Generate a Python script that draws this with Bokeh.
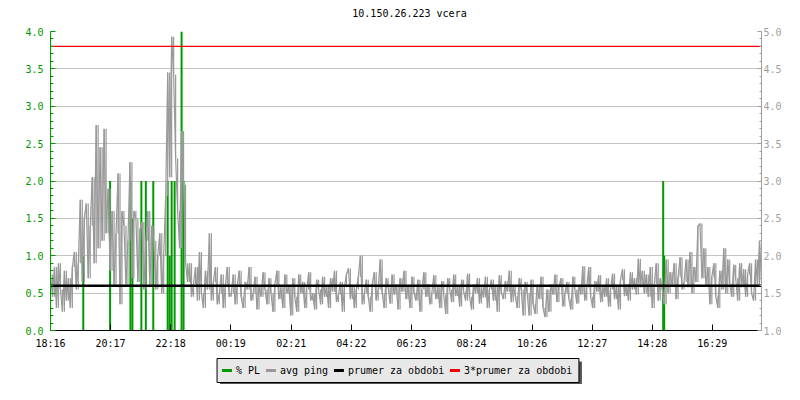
from bokeh.plotting import figure
from bokeh.layouts import column
from bokeh.core.properties import value
from bokeh.models import (Range1d, LinearAxis, FixedTicker, SingleIntervalTicker,
                          PrintfTickFormatter)
from bokeh.embed import file_html
from bokeh.resources import INLINE

# ---------------- data ----------------
title_text = "10.150.26.223 vcera"

tick_minutes = [0, 121, 242, 363, 485, 606, 727, 848, 970, 1091, 1212, 1333]
tick_labels = ["18:16", "20:17", "22:18", "00:19", "02:21", "04:22",
               "06:23", "08:24", "10:26", "12:27", "14:28", "16:29"]

sample_step_min = 4  # minutes between avg ping samples

# avg ping [ms] (right axis)
ping_ms = [
    # 18:16 - 22:30 (busy evening)
    1.75, 1.45, 1.85, 1.3, 1.9, 1.55, 1.25, 1.8, 1.4, 1.7, 1.3, 1.85,
    2.05, 1.55, 1.9,
    2.75, 1.65, 2.5,
    2.7, 1.7, 2.4,
    3.05, 1.9,
    3.75, 2.1,
    3.45, 2.2,
    3.7, 2.3,
    2.9, 1.8,
    2.6, 1.6, 2.3,
    3.1, 1.35, 2.6,
    2.4, 1.6, 2.2,
    3.25, 1.7, 2.6,
    2.5, 1.65, 2.35,
    2.45, 1.55, 2.2,
    2.6, 1.6, 2.4,
    2.2, 1.55, 2.0,
    2.3, 1.5, 2.0,
    2.8, 4.45, 3.05, 4.93, 4.42, 3.3, 2.6, 2.1, 3.67, 2.95, 1.9, 1.65,
    1.9, 1.45, 1.62, 1.85, 1.4,
    2.05,
    1.5, 1.3, 1.8, 1.55,
    2.3,
    1.4, 1.65, 1.85, 1.35, 1.5, 1.75, 1.3, 1.6, 1.85, 1.45,
    # night and day
    1.5, 1.75, 1.35, 1.6, 1.8, 1.45, 1.3, 1.65, 1.55, 1.85, 1.4, 1.5, 1.72, 1.28,
    1.6, 1.45, 1.78, 1.55, 1.35, 1.7, 1.5, 1.25, 1.62, 1.8, 1.42, 1.58, 1.3, 1.75, 1.5,
    1.6, 1.2, 1.7, 1.45, 1.25, 1.75, 1.5, 1.65, 1.3, 1.55,
    1.78, 1.4, 1.5, 1.28, 1.68, 1.55, 1.35, 1.72, 1.45, 1.6,
    1.3, 1.7, 1.52, 1.8, 1.38, 1.48, 1.65, 1.25, 1.58, 1.75,
    1.83, 1.42, 1.6, 1.3, 1.55, 1.72, 2.0, 1.35, 1.5, 1.68,
    1.45, 1.25, 1.62, 1.78, 1.4, 1.55, 1.95, 1.5, 1.3, 1.7,
    1.58, 1.36, 1.75, 1.48, 1.62, 1.28, 1.7, 1.52, 1.8, 1.42,
    1.6, 1.3, 1.72, 1.5, 1.4, 1.68, 1.25, 1.55, 1.78, 1.45,
    1.62, 1.35, 1.5, 1.74, 1.42, 1.58, 1.3, 1.66, 1.48, 1.22,
    1.7, 1.55, 1.38, 1.75, 1.46, 1.6, 1.32, 1.68, 1.52, 1.4,
    1.76, 1.45, 1.28, 1.62, 1.5, 1.7, 1.36, 1.58, 1.44, 1.72,
    1.3, 1.55, 1.68, 1.4, 1.6, 1.25, 1.74, 1.5, 1.42, 1.66,
    1.52, 1.8, 1.38, 1.6, 1.46, 1.3, 1.7, 1.55, 1.2, 1.65,
    1.5, 1.2, 1.68, 1.35, 1.22, 1.6, 1.42, 1.72, 1.3, 1.18,
    1.55, 1.25, 1.62, 1.48, 1.75, 1.38, 1.58, 1.7, 1.32, 1.5,
    1.65, 1.42, 1.28, 1.72, 1.55, 1.36, 1.6, 1.48, 1.86, 1.4,
    1.58, 1.85, 1.45, 1.3, 1.66, 1.52, 1.74, 1.38, 1.6, 1.45,
    1.7, 1.32, 1.55, 1.76, 1.42, 1.6, 1.28, 1.68, 1.82, 1.46,
    1.62, 1.4, 1.78, 1.55, 1.7, 1.48, 1.96, 1.58, 1.8, 1.5,
    1.75, 1.45, 1.85, 1.3, 1.62, 1.9, 1.4, 1.7, 1.55, 1.35,
    1.95, 1.5, 1.78, 1.6, 1.9, 1.42, 1.72, 1.98, 1.55, 1.65,
    1.95, 1.58, 2.05, 1.5, 1.85, 1.65, 2.4, 2.43, 1.7, 2.1,
    1.6, 1.85, 1.35, 1.72, 1.9, 1.45, 1.3, 1.8, 1.55, 2.1,
    1.5, 1.95, 1.62, 1.45, 1.88, 1.7, 1.4, 1.9, 1.58, 1.82,
    1.45, 1.75, 1.9, 1.5, 1.4, 1.95, 1.6, 2.2, 1.65,
]
ping_minutes = [i * sample_step_min for i in range(len(ping_ms))]

# packet loss [%] (left axis) spikes
pl_minutes = [66, 120, 161, 165, 183, 192, 207, 236, 240, 244, 250, 264, 268, 1234, 1236]
pl_values = [1.0, 2.0, 2.0, 1.5, 2.0, 2.0, 2.0, 2.0, 1.0, 2.0, 2.0, 4.0, 2.0, 2.0, 1.0]

mean_ping = 1.6          # prumer za obdobi [ms]
triple_mean_ping = 4.8   # 3*prumer za obdobi [ms]

legend_labels = ["% PL", "avg ping", "prumer za obdobi", "3*prumer za obdobi"]

# ---------------- styles ----------------
GREEN = "#009900"
GRAY = "#999999"
AXGRAY = "#A0A0A0"
RED = "#FF0000"
FONT = "DejaVu Sans Mono"
FS = "10px"
W = 784
TITLE_H = 24
MAIN_H = 332
LEG_H = 28
BORDER_L = 50
BORDER_R = 21
FRAME_R = W - BORDER_R


def strip(height):
    f = figure(width=W, height=height, output_backend="svg", toolbar_location=None,
               x_range=Range1d(BORDER_L, FRAME_R), y_range=Range1d(0, height),
               x_axis_location=None, y_axis_location=None,
               min_border_left=BORDER_L, min_border_right=BORDER_R,
               min_border_top=0, min_border_bottom=0)
    f.outline_line_color = None
    f.background_fill_color = "white"
    f.border_fill_color = "white"
    f.grid.visible = False
    return f


# ---------------- title strip ----------------
tp = strip(TITLE_H)
TITLE_X = 410          # page px, centre of title
TITLE_Y = TITLE_H - 13  # 13 px below the top
tp.text(x=[TITLE_X], y=[TITLE_Y], text=[title_text], text_font=value(FONT),
        text_font_size=value(FS), text_align="center", text_baseline="middle",
        text_color="black")

# ---------------- main plot ----------------
p = figure(width=W, height=MAIN_H, output_backend="svg", toolbar_location=None,
           x_range=Range1d(0, ping_minutes[-1]), y_range=Range1d(0, 4),
           min_border_left=BORDER_L, min_border_right=BORDER_R,
           min_border_top=31 - TITLE_H, min_border_bottom=26)
p.extra_y_ranges = {"ping": Range1d(1, 5)}
p.outline_line_color = None
p.background_fill_color = "white"
p.border_fill_color = "white"

p.xgrid.visible = False
p.ygrid.grid_line_color = "#C4C4C4"
p.ygrid.grid_line_width = 1

# left axis (% PL)
yl = p.yaxis[0]
yl.ticker = SingleIntervalTicker(interval=0.5, num_minor_ticks=5)
yl.formatter = PrintfTickFormatter(format="%.1f")
yl.axis_line_color = GREEN
yl.major_tick_line_color = GREEN
yl.minor_tick_line_color = GREEN
yl.major_tick_in = 5
yl.major_tick_out = 0
yl.minor_tick_in = 3
yl.minor_tick_out = 0
yl.major_label_text_color = GREEN
yl.major_label_text_font = FONT
yl.major_label_text_font_size = FS
yl.major_label_standoff = 7

# right axis (ping)
yr = LinearAxis(y_range_name="ping",
                ticker=SingleIntervalTicker(interval=0.5, num_minor_ticks=5),
                formatter=PrintfTickFormatter(format="%.1f"))
yr.axis_line_color = AXGRAY
yr.major_tick_line_color = AXGRAY
yr.minor_tick_line_color = AXGRAY
yr.major_tick_in = 4
yr.major_tick_out = 0
yr.minor_tick_in = 2
yr.minor_tick_out = 0
yr.major_label_text_color = AXGRAY
yr.major_label_text_font = FONT
yr.major_label_text_font_size = FS
yr.major_label_standoff = 2
p.add_layout(yr, "right")

# bottom axis
xa = p.xaxis[0]
xa.ticker = FixedTicker(ticks=tick_minutes, minor_ticks=[])
xa.major_label_overrides = {t: l for t, l in zip(tick_minutes, tick_labels)}
xa.axis_line_color = "black"
xa.axis_line_width = 1.2
xa.major_tick_line_color = "black"
xa.major_tick_in = 6
xa.major_tick_out = 0
xa.minor_tick_line_color = None
xa.major_label_text_font = FONT
xa.major_label_text_font_size = FS
xa.major_label_text_color = "black"
xa.major_label_standoff = 7

# glyphs
p.segment(x0=pl_minutes, y0=[0] * len(pl_values), x1=pl_minutes, y1=pl_values,
          line_color=GREEN, line_width=2)
# avg ping: dense line, plus the vertical jump between consecutive samples
p.line(x=ping_minutes, y=ping_ms, line_color=GRAY, line_width=1.2,
       y_range_name="ping")
p.segment(x0=ping_minutes[1:], y0=ping_ms[:-1], x1=ping_minutes[1:], y1=ping_ms[1:],
          line_color=GRAY, line_width=1.2, y_range_name="ping")
span_x = [ping_minutes[0], ping_minutes[-1]]
p.line(x=span_x, y=[mean_ping, mean_ping], line_color="black", line_width=2.5,
       y_range_name="ping")
p.line(x=span_x, y=[triple_mean_ping, triple_mean_ping], line_color=RED,
       line_width=1.2, y_range_name="ping")

# ---------------- legend strip (pixel units) ----------------
LEG_LEFT = 217
LEG_TOP = 26        # strip y (from its bottom) of the box top
LEG_BOX_H = 24
SHADOW = 3
PAD_L, PAD_R = 5, 7
SW_W, SW_GAP, ITEM_GAP = 10, 4, 6
CHAR_W = 6.02
sw_colors = [GREEN, GRAY, "black", "#EE0000"]

lp = strip(LEG_H)

sw_x0, txt_x = [], []
cur = LEG_LEFT + PAD_L
for lab in legend_labels:
    sw_x0.append(cur)
    txt_x.append(cur + SW_W + SW_GAP)
    cur += SW_W + SW_GAP + len(lab) * CHAR_W + ITEM_GAP
leg_right = cur - ITEM_GAP + PAD_R
mid_y = LEG_TOP - LEG_BOX_H / 2

lp.quad(left=[LEG_LEFT + SHADOW], right=[leg_right + SHADOW],
        bottom=[LEG_TOP - LEG_BOX_H - SHADOW], top=[LEG_TOP - SHADOW],
        fill_color="#555555", line_color=None)
lp.quad(left=[LEG_LEFT], right=[leg_right], bottom=[LEG_TOP - LEG_BOX_H], top=[LEG_TOP],
        fill_color="#E8E8E8", line_color="black", line_width=1)
lp.segment(x0=sw_x0, y0=[mid_y] * 4, x1=[x + SW_W for x in sw_x0], y1=[mid_y] * 4,
           line_color=sw_colors, line_width=3)
lp.text(x=txt_x, y=[mid_y] * 4, text=legend_labels, text_font=value(FONT),
        text_font_size=value(FS), text_baseline="middle", text_align="left",
        text_color="black")

layout = column(tp, p, lp, spacing=0)
open("out.html", "w").write(file_html(layout, INLINE))
